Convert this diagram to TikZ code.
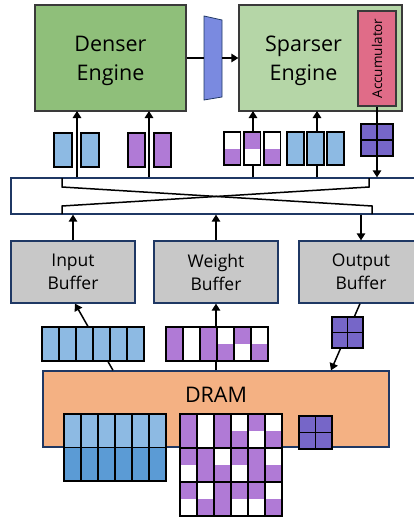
\documentclass[tikz,border=0pt]{standalone}
\usepackage{fontspec}
\setmainfont{Open Sans}
\usetikzlibrary{arrows.meta}

\definecolor{densegreen}{HTML}{8FBF7A}
\definecolor{sparsegreen}{HTML}{B5D6A7}
\definecolor{accpink}{HTML}{E06C88}
\definecolor{muxblue}{HTML}{7A8AE0}
\definecolor{bufgray}{HTML}{C8C8C8}
\definecolor{dramorange}{HTML}{F4B183}
\definecolor{navy}{HTML}{1F3864}
\definecolor{edgegray}{HTML}{3A3A3A}
\definecolor{lightblue}{HTML}{8DBAE3}
\definecolor{darkblue}{HTML}{5B9BD5}
\definecolor{wpurple}{HTML}{B07AD6}
\definecolor{opurple}{HTML}{7666C8}

\begin{document}
\begin{tikzpicture}
  [x=1pt, y=-1pt,
   >={Triangle[width=8.5pt,length=7pt]},
   flow/.style={->, line width=1.5pt},
   unit/.style={draw=edgegray, line width=1.3pt, inner sep=0pt},
   membox/.style={draw=navy, line width=1.3pt, inner sep=0pt},
   cell/.style={draw=black, line width=1.2pt},
   enginetext/.style={font=\fontsize{21.5}{28.5}\selectfont, align=center},
   buftext/.style={font=\fontsize{17.5}{23}\selectfont, align=center}]
  \useasboundingbox (0,0) rectangle (414,517);
  \clip (0,0) rectangle (414,517);

  % compute engines
  \node[unit, fill=densegreen, minimum width=151pt, minimum height=106pt] (denser) at (110.5,58) {};
  \node[enginetext] at ([yshift=-3pt]denser.center) {Denser\\Engine};
  \node[unit, fill=sparsegreen, minimum width=163pt, minimum height=106pt] (sparser) at (320.5,58) {};
  \node[enginetext] at ([xshift=-17pt,yshift=-3pt]sparser.center) {Sparser\\Engine};
  \node[draw=edgegray, line width=1.2pt, fill=accpink, minimum width=38pt,
        minimum height=95pt] (acc) at (377,58.5) {};
  \node[rotate=90, font=\fontsize{13.5}{16}\selectfont] at (acc.center) {Accumulator};

  % converter between the engines
  \draw[draw=navy, line width=0.8pt, fill=muxblue] (204,16) -- (222,20) -- (222,97) -- (204,100) -- cycle;
  \coordinate (muxin) at (204,58);
  \coordinate (muxout) at (222,58);
  \draw[line width=1.5pt] (denser.east) -- (muxin);
  \draw[flow] (muxout) -- (sparser.west);

  % interconnect
  \node[membox, minimum width=419pt, minimum height=36pt] (bus) at (220.5,196) {};
  \draw[line width=1.5pt] (62,178) -- (62,187) -- (372,206) -- (372,214);
  \draw[line width=1.5pt] (369,178) -- (369,187) -- (62,206) -- (62,214);

  % buffers and DRAM
  \node[membox, fill=bufgray, minimum width=124pt, minimum height=62pt, buftext] (inbuf) at (73,272) {Input\\Buffer};
  \node[membox, fill=bufgray, minimum width=124pt, minimum height=62pt, buftext] (wbuf) at (216,272) {Weight\\Buffer};
  \node[membox, fill=bufgray, minimum width=124pt, minimum height=62pt, buftext] (obuf) at (361,272) {Output\\Buffer};
  \node[membox, fill=dramorange, minimum width=346pt, minimum height=76pt] (dram) at (216,409) {};
  \node[font=\fontsize{21.5}{26}\selectfont] at ([yshift=14pt]dram.center) {DRAM};

  % connectors
  \coordinate (d1) at (77,111);
  \coordinate (d2) at (149,111);
  \coordinate (s1) at (253,111);
  \coordinate (s2) at (317,111);
  \foreach \c in {d1,d2,s1,s2}
    \draw[flow] (bus.north -| \c) -- (\c);
  \draw[flow] (acc.south) -- (acc.south |- bus.north);
  \draw[flow] (inbuf.north) -- (inbuf.north |- bus.south);
  \draw[flow] (wbuf.north) -- (wbuf.north |- bus.south);
  \draw[flow] (obuf.north |- bus.south) -- (obuf.north);
  \draw[flow] ([xshift=-103pt]dram.north) -- ([xshift=2pt]inbuf.south);
  \draw[flow] (dram.north -| wbuf.south) -- (wbuf.south);
  \draw[flow] ([xshift=-1pt]obuf.south) -- ([xshift=115pt]dram.north);

  % tiles on the way to the engines
  \foreach \x in {54,81}
    \draw[cell, fill=lightblue] (\x,133) rectangle (\x+18,167);
  \foreach \x in {128,154}
    \draw[cell, fill=wpurple] (\x,133) rectangle (\x+17,167);
  \foreach \x/\t/\b in {224/white/wpurple, 244/wpurple/white, 264/white/wpurple} {
    \fill[\t] (\x,132) rectangle (\x+16.5,149);
    \fill[\b] (\x,149) rectangle (\x+16.5,165);
    \draw[cell] (\x,132) rectangle (\x+16.5,165);
  }
  \foreach \x in {287,307,327}
    \draw[cell, fill=lightblue] (\x,132) rectangle (\x+17,165);
  \draw[cell, fill=opurple] (361,124) rectangle (393,156);
  \draw[cell] (377,124) -- (377,156) (361,140) -- (393,140);

  % tiles between buffers and DRAM
  \foreach \i in {0,...,5}
    \draw[cell, fill=lightblue] (42+17*\i,327) rectangle +(17,34);
  \foreach \i/\t/\b in {0/wpurple/wpurple, 1/white/white, 2/wpurple/wpurple,
                        3/white/wpurple, 4/wpurple/white, 5/white/wpurple} {
    \fill[\t] (166+17*\i,327) rectangle +(17,17);
    \fill[\b] (166+17*\i,344) rectangle +(17,17);
    \draw[cell] (166+17*\i,327) rectangle +(17,34);
  }
  \draw[cell, fill=opurple] (332,317) rectangle (363,348);
  \draw[cell] (347.5,317) -- (347.5,348) (332,332.5) -- (363,332.5);

  % tiles held in DRAM
  \foreach \i in {0,...,5} {
    \draw[cell, fill=lightblue] (64+17*\i,414) rectangle +(17,33.5);
    \draw[cell, fill=darkblue] (64+17*\i,447.5) rectangle +(17,33.5);
  }
  \foreach \i/\j/\t/\b in {0/0/wpurple/wpurple, 1/0/white/white, 2/0/wpurple/wpurple,
                           3/0/white/wpurple, 4/0/wpurple/white, 5/0/white/wpurple,
                           0/1/wpurple/white, 1/1/wpurple/wpurple, 2/1/white/wpurple,
                           3/1/wpurple/white, 4/1/wpurple/wpurple, 5/1/white/wpurple,
                           0/2/wpurple/white, 1/2/white/wpurple, 2/2/wpurple/wpurple,
                           3/2/wpurple/white, 4/2/wpurple/white, 5/2/white/wpurple} {
    \fill[\t] (180+17*\i,414+34*\j) rectangle +(17,17);
    \fill[\b] (180+17*\i,431+34*\j) rectangle +(17,17);
    \draw[cell] (180+17*\i,414+34*\j) rectangle +(17,34);
  }
  \draw[cell, fill=opurple] (299,416) rectangle (332,449);
  \draw[cell] (315.5,416) -- (315.5,449) (299,432.5) -- (332,432.5);
\end{tikzpicture}
\end{document}
